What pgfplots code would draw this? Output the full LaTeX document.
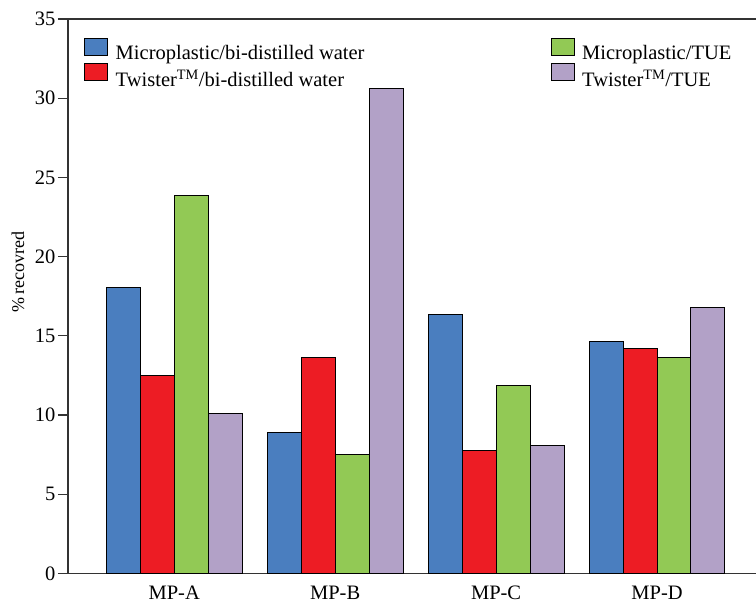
\documentclass[border=0pt]{standalone}
\usepackage{fontspec}
\setmainfont{Liberation Serif}
\usepackage{pgfplots}
\usepackage{pgfplotstable}
\pgfplotsset{compat=1.18}

\definecolor{cblue}{HTML}{4A7EBF}
\definecolor{cred}{HTML}{ED1C24}
\definecolor{cgreen}{HTML}{92C955}
\definecolor{cpurple}{HTML}{B2A1C7}
\definecolor{axisgray}{HTML}{333333}

% percentage recovered per microplastic type and extraction setup
\pgfplotstableread{
x  blue   red    green  purple
0  18.06  12.52  23.88  10.10
1   8.90  13.64   7.53  30.62
2  16.37   7.74  11.85   8.08
3  14.62  14.20  13.64  16.77
}\recovered

\newcommand{\chartfont}{\fontsize{20.5}{24}\selectfont}

\begin{document}
\begin{tikzpicture}
\begin{axis}[
  name=ax,
  scale only axis,
  width=688pt, height=554.3pt,
  xmin=-0.66, xmax=3.615,
  ymin=0, ymax=35,
  clip=false,
  axis lines=left,
  axis line style={-, draw=axisgray, line width=1.2pt},
  ytick={0,5,...,35},
  tick align=outside,
  major tick length=10pt,
  y tick style={draw=axisgray, line width=1.2pt},
  xtick={0,1,2,3},
  xticklabels={MP-A,MP-B,MP-C,MP-D},
  x tick style={draw=none},
  xticklabel style={font=\chartfont, yshift=1pt},
  yticklabel style={font=\chartfont, xshift=1pt},
  /pgf/number format/assume math mode=true,
  ylabel={\%\,recovred},
  every axis y label/.style={at={(axis description cs:-0.0727,0.5436)}, rotate=90, anchor=center,
    font=\fontsize{18}{21}\selectfont},
  legend columns=2,
  legend cell align=left,
  legend style={
    at={(axis description cs:0.0233,0.9657)}, anchor=north west,
    draw=none, fill=none, inner sep=0pt, outer sep=0pt,
    font=\chartfont,
    row sep=1pt,
    /tikz/column 2/.style={column sep=185pt},
    nodes={inner sep=1pt},
  },
  legbox/.style={legend image code/.code={%
    \draw[##1, draw=black, line width=1pt] (0pt,-2pt) rectangle (23pt,15pt);
    \path (30pt,0pt);}},
]
\addlegendimage{legbox, fill=cblue}
\addlegendentry{Microplastic/bi-distilled water}
\addlegendimage{legbox, fill=cgreen}
\addlegendentry{Microplastic/TUE}
\addlegendimage{legbox, fill=cred}
\addlegendentry{Twister\textsuperscript{TM}/bi-distilled water}
\addlegendimage{legbox, fill=cpurple}
\addlegendentry{Twister\textsuperscript{TM}/TUE}

\addplot[ybar, bar width=0.211, bar shift=-0.3165, fill=cblue, draw=black, line width=1pt, forget plot]
  table[x=x, y=blue] {\recovered};
\addplot[ybar, bar width=0.211, bar shift=-0.1055, fill=cred, draw=black, line width=1pt, forget plot]
  table[x=x, y=red] {\recovered};
\addplot[ybar, bar width=0.211, bar shift=0.1055, fill=cgreen, draw=black, line width=1pt, forget plot]
  table[x=x, y=green] {\recovered};
\addplot[ybar, bar width=0.211, bar shift=0.3165, fill=cpurple, draw=black, line width=1pt, forget plot]
  table[x=x, y=purple] {\recovered};

% upper frame line
\draw[axisgray, line width=1.2pt] (rel axis cs:0,1) -- (rel axis cs:1,1);
\end{axis}
\pgfresetboundingbox
\path[use as bounding box] ([shift={(-68pt,-34.7pt)}]ax.south west) rectangle ([yshift=19pt]ax.north east);
\end{tikzpicture}
\end{document}
